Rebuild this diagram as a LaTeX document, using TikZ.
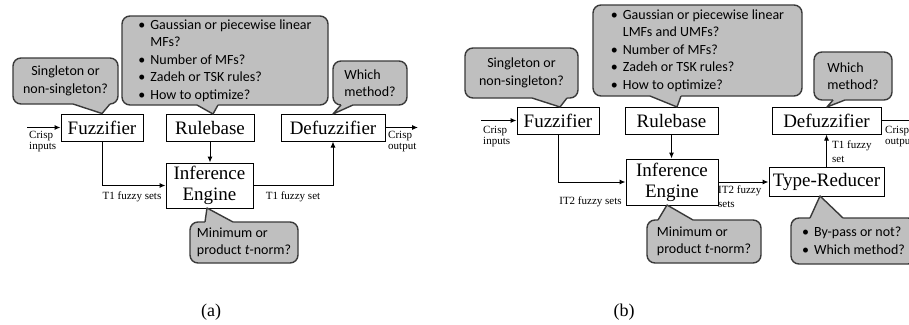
\documentclass[tikz,border=0pt]{standalone}
\usepackage{fontspec}
\setmainfont{Liberation Serif}
\newfontfamily\callfont{Carlito}
\usetikzlibrary{arrows.meta,calc}
\definecolor{cfill}{HTML}{BFBFBF}
\definecolor{cedge}{HTML}{3A3A3A}

% bullet with a fixed indent for the question lists
\newcommand\bitem{\makebox[12pt][l]{\textbullet}}
\newcommand\bindent{\hspace*{12pt}}

% tail of a speech bubble: base points #1 and #2 on the bubble edge,
% tip #3, #4 = shift that pushes the filled base into the bubble
\newcommand\calltail[4]{%
  \fill[cfill] ($#1+(0,#4)$) -- #1 -- #3 -- #2 -- ($#2+(0,#4)$) -- cycle;
  \draw[tailline] #1 -- #3 -- #2;
}

\begin{document}
\begin{tikzpicture}[x=1pt,y=-1pt,
  blk/.style={draw,line width=1pt,fill=white,inner sep=0pt,
    font=\fontsize{19}{21}\selectfont},
  lbl/.style={inner sep=0pt,align=left,font=\fontsize{11}{11.5}\selectfont},
  call/.style={draw=cedge,fill=cfill,line width=1.4pt,rounded corners=8pt,
    inner sep=0pt,align=left,font=\callfont\fontsize{14}{17.5}\selectfont},
  flow/.style={line width=1pt,-{Latex[length=6pt,width=5pt]}},
  tailline/.style={draw=cedge,line width=1.4pt,line join=round},
  captext/.style={inner sep=0pt,font=\fontsize{18}{20}\selectfont}]

\useasboundingbox (0,0) rectangle (909,324);
\fill[white] (0,0) rectangle (909,324);
\clip (0,0) rectangle (909,324);

% ---------------- (a) type-1 fuzzy logic system ----------------
\node[blk,minimum width=82pt,minimum height=27pt] (fuzA) at (102,127.5) {Fuzzifier};
\node[blk,minimum width=88pt,minimum height=27pt] (ruleA) at (210,127.5) {Rulebase};
\node[blk,minimum width=104pt,minimum height=27pt] (defA) at (333,127.5) {Defuzzifier};
\node[blk,align=center,minimum width=87pt,minimum height=45pt] (infA) at (209.5,185.5) {Inference\\Engine};

\coordinate (inA) at (27,127.5);
\coordinate (outA) at (418,127.5);

\draw[flow] (inA) -- (fuzA.west);
\draw[flow] (defA.east) -- (outA);
\draw[flow] (fuzA.south) |- (infA.west);
\draw[flow] (ruleA.south) -- (ruleA.south |- infA.north);
\draw[flow] (infA.east) -| (defA.south);

\node[lbl,anchor=north west] (ciA) at (29,131) {Crisp\\inputs};
\node[lbl,anchor=north west] (coA) at (388,131) {Crisp\\output};
\node[lbl] (t1A) at (132,197) {T1 fuzzy sets};
\node[lbl] (t1oA) at (293,197) {T1 fuzzy set};

\node[call,align=center,minimum width=105pt,minimum height=46pt] (cA1) at (65.5,81)
  {Singleton or\\non-singleton?};
\node[call,minimum width=206pt,minimum height=89pt] (cA2) at (225,60.5)
  {\bitem Gaussian or piecewise linear\\\bindent MFs?\\\bitem Number of MFs?\\\bitem Zadeh or TSK rules?\\\bitem How to optimize?};
\node[call,minimum width=74pt,minimum height=44pt] (cA3) at (370,83)
  {Which\\method?};
\node[call,minimum width=108pt,minimum height=41pt] (cA4) at (244,242.5)
  {Minimum or\\product \textit{t}-norm?};

\calltail{(73,104)}{(110,104)}{(fuzA.north)}{-3}
\calltail{(197,105)}{(218,105)}{(213,114)}{-3}
\calltail{(341,105)}{(353,105)}{(333,114)}{-3}
\calltail{(205,222)}{(233,222)}{(207,208)}{3}

% ---------------- (b) interval type-2 fuzzy logic system ----------------
\node[blk,minimum width=82pt,minimum height=27pt] (fuzB) at (558,120.5) {Fuzzifier};
\node[blk,minimum width=93pt,minimum height=27pt] (ruleB) at (671.5,120.5) {Rulebase};
\node[blk,minimum width=109pt,minimum height=27pt] (defB) at (826.5,120.5) {Defuzzifier};
\node[blk,align=center,minimum width=92pt,minimum height=46pt] (infB) at (672,182) {Inference\\Engine};
\node[blk,minimum width=115pt,minimum height=29pt] (trB) at (826.5,182) {Type-Reducer};

\coordinate (inB) at (481,120.5);
\coordinate (outB) at (918,120.5);

\draw[flow] (inB) -- (fuzB.west);
\draw[flow] (defB.east) -- (outB);
\draw[flow] (fuzB.south) |- (infB.west);
\draw[flow] (ruleB.south) -- (ruleB.south |- infB.north);
\draw[flow] (infB.east) -- (trB.west);
\draw[flow] (trB.north) -- (defB.south);

\node[lbl,anchor=north west] (ciB) at (483,126) {Crisp\\inputs};
\node[lbl,anchor=north west] (coB) at (885,126) {Crisp\\output};
\node[lbl] (it2B) at (590.5,202) {IT2 fuzzy sets};
\node[lbl,anchor=north west] (it2oB) at (718,186) {IT2 fuzzy\\[2pt]sets};
\node[lbl,anchor=north west] (t1B) at (832,141) {T1 fuzzy\\[2pt]set};

\node[call,align=center,minimum width=113pt,minimum height=50pt] (cB1) at (521.5,73)
  {Singleton or\\non-singleton?};
\node[call,minimum width=209pt,minimum height=91pt] (cB2) at (697.5,50.5)
  {\bitem Gaussian or piecewise linear\\\bindent LMFs and UMFs?\\\bitem Number of MFs?\\\bitem Zadeh or TSK rules?\\\bitem How to optimize?};
\node[call,minimum width=78pt,minimum height=48pt] (cB3) at (853,76)
  {Which\\method?};
\node[call,minimum width=114pt,minimum height=43pt] (cB4) at (704,241.5)
  {Minimum or\\product \textit{t}-norm?};
\node[call,minimum width=125pt,minimum height=46pt] (cB5) at (853.5,241)
  {\bitem By-pass or not?\\\bitem Which method?};

\calltail{(532,98)}{(567,98)}{(560,107)}{-3}
\calltail{(650,96)}{(681,96)}{(677,107)}{-3}
\calltail{(833,100)}{(845,100)}{(827,107)}{-3}
\calltail{(658,220)}{(693,220)}{(667,205)}{3}
\calltail{(810,218)}{(843,218)}{(820,196)}{3}

% ---------------- captions ----------------
\node[captext] (capA) at (211,312) {(a)};
\node[captext] (capB) at (624,312) {(b)};
\end{tikzpicture}
\end{document}
